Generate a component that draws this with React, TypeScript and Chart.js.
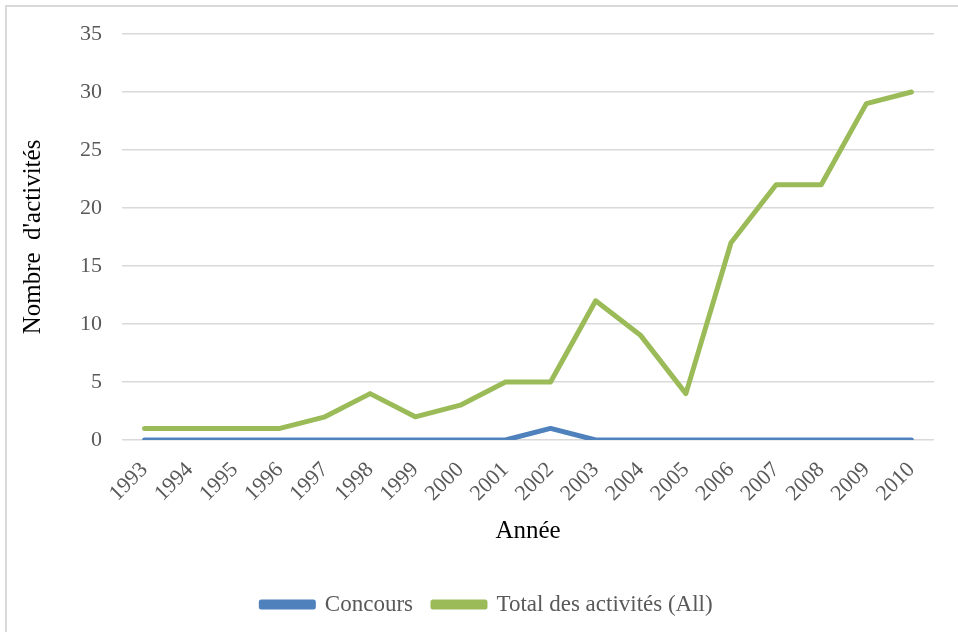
import React, { useEffect, useRef } from "react";
import { Chart, registerables } from "chart.js";

Chart.register(...registerables);

const years = ["1993","1994","1995","1996","1997","1998","1999","2000","2001","2002","2003","2004","2005","2006","2007","2008","2009","2010"];
const concours = [0,0,0,0,0,0,0,0,0,1,0,0,0,0,0,0,0,0];
const totalActivites = [1,1,1,1,2,4,2,3,5,5,12,9,4,17,22,22,29,30];
const yTicks = [0,5,10,15,20,25,30,35];

const FONT = "'Liberation Serif', 'Times New Roman', serif";

const legendShift = {
  id: "legendShift",
  afterLayout(chart: any) {
    const lg = chart.legend;
    if (lg) {
      lg.left += 20;
      lg.right += 20;
    }
  },
};

export default function App() {
  const ref = useRef<HTMLCanvasElement>(null);
  useEffect(() => {
    if (!ref.current) return;
    const chart = new Chart(ref.current, {
      type: "line",
      data: {
        labels: years,
        datasets: [
          {
            label: "Concours",
            data: concours,
            borderColor: "#4f81bd",
            backgroundColor: "#4f81bd",
            borderWidth: 5,
            pointRadius: 0,
            tension: 0,
            borderCapStyle: "round",
            borderJoinStyle: "round",
          },
          {
            label: "Total des activités (All)",
            data: totalActivites,
            borderColor: "#9bbb59",
            backgroundColor: "#9bbb59",
            borderWidth: 5,
            pointRadius: 0,
            tension: 0,
            borderCapStyle: "round",
            borderJoinStyle: "round",
          },
        ],
      },
      options: {
        responsive: false,
        animation: false,
        layout: { padding: { top: 34, right: 24, left: 0, bottom: 6 } },
        plugins: {
          tooltip: { enabled: false },
          legend: {
            position: "bottom",
            labels: {
              font: { family: FONT, size: 23 },
              color: "#595959",
              boxWidth: 52,
              boxHeight: 5,
              padding: 20,
            },
          },
        },
        scales: {
          x: {
            offset: true,
            grid: { display: false, drawTicks: false },
            border: { display: false },
            ticks: {
              autoSkip: false,
              minRotation: 45,
              maxRotation: 45,
              padding: 17,
              color: "#595959",
              font: { family: FONT, size: 22 },
            },
            title: {
              display: true,
              text: "Année",
              color: "#000000",
              font: { family: FONT, size: 25 },
              padding: { top: 0, bottom: 27 },
            },
            afterFit: (s: any) => {
              s.height = 133;
            },
          },
          y: {
            min: 0,
            max: 35,
            afterBuildTicks: (s: any) => {
              s.ticks = yTicks.map((v) => ({ value: v }));
            },
            grid: { color: "#d9d9d9", lineWidth: 1.5, drawTicks: false },
            border: { display: false },
            ticks: {
              padding: 20,
              color: "#595959",
              font: { family: FONT, size: 22 },
            },
            title: {
              display: true,
              text: "Nombre  d'activités",
              color: "#000000",
              font: { family: FONT, size: 25 },
              padding: { top: 18, bottom: 0 },
            },
            afterFit: (s: any) => {
              s.width = 122;
            },
          },
        },
      },
      plugins: [legendShift],
    });
    return () => chart.destroy();
  }, []);

  return (
    <div style={{ position: "fixed", left: 0, top: 0, width: 958, height: 632, overflow: "hidden", background: "#fff" }}>
      <div
        style={{
          position: "absolute",
          left: 5,
          top: 5,
          width: 980,
          height: 660,
          border: "2px solid #d9d9d9",
          boxSizing: "border-box",
        }}
      />
      <canvas ref={ref} width={958} height={632} style={{ position: "absolute", left: 0, top: 0 }} />
    </div>
  );
}
